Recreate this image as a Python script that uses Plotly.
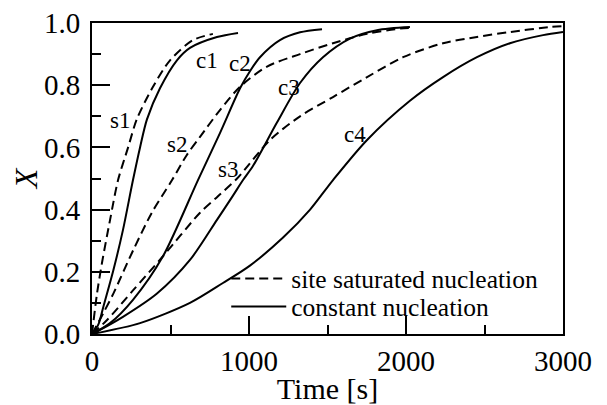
import plotly.graph_objects as go

# Time [s] and transformed fraction X
s1_t = [0, 32, 64, 115, 166, 230, 285, 383, 497, 643, 770]
s1_x = [0, 0.13, 0.23, 0.367, 0.495, 0.60, 0.69, 0.79, 0.88, 0.945, 0.965]

c1_t = [0, 40, 72, 136, 197, 261, 306, 350, 433, 541, 624, 796, 930]
c1_x = [0, 0.03, 0.087, 0.205, 0.334, 0.495, 0.60, 0.69, 0.79, 0.88, 0.92, 0.955, 0.968]

s2_t = [0, 72, 136, 263, 381, 510, 603, 688, 815, 943, 1115, 1325, 1535, 1752, 1962, 2040]
s2_x = [0, 0.067, 0.13, 0.27, 0.39, 0.495, 0.575, 0.634, 0.72, 0.795, 0.86, 0.90, 0.935, 0.965, 0.982, 0.984]

c2_t = [0, 115, 261, 452, 675, 815, 943, 1006, 1070, 1197, 1325, 1465]
c2_x = [0, 0.035, 0.11, 0.25, 0.495, 0.646, 0.79, 0.845, 0.89, 0.945, 0.97, 0.98]

s3_t = [0, 96, 261, 452, 688, 796, 924, 1134, 1325, 1535, 1752, 1981, 2236, 2452, 2662, 2917, 3000]
s3_x = [0, 0.045, 0.14, 0.25, 0.39, 0.44, 0.50, 0.624, 0.70, 0.762, 0.826, 0.89, 0.935, 0.955, 0.971, 0.987, 0.99]

c3_t = [0, 51, 197, 414, 624, 796, 898, 962, 1025, 1178, 1325, 1471, 1643, 1815, 2025]
c3_x = [0, 0.013, 0.055, 0.13, 0.238, 0.367, 0.445, 0.495, 0.54, 0.68, 0.807, 0.89, 0.95, 0.977, 0.987]

c4_t = [0, 306, 624, 834, 1006, 1217, 1389, 1535, 1752, 2025, 2236, 2452, 2662, 2873, 3000]
c4_x = [0, 0.035, 0.10, 0.164, 0.22, 0.31, 0.40, 0.495, 0.624, 0.75, 0.826, 0.89, 0.935, 0.961, 0.971]

label_names = ["s1", "c1", "s2", "c2", "s3", "c3", "c4"]
label_t = [178, 732, 541, 943, 866, 1255, 1675]
label_x = [0.685, 0.878, 0.608, 0.871, 0.53, 0.794, 0.643]

legend_names = ["site saturated nucleation", "constant nucleation"]

FONT = "Liberation Serif, Times New Roman, serif"

fig = go.Figure()

dashed = [(s1_t, s1_x), (s2_t, s2_x), (s3_t, s3_x)]
solid = [(c1_t, c1_x), (c2_t, c2_x), (c3_t, c3_x), (c4_t, c4_x)]

for i, (t, x) in enumerate(dashed):
    fig.add_trace(go.Scatter(
        x=t, y=x, mode="lines", line=dict(color="black", width=2, dash="9px,5px", shape="spline", smoothing=0.8),
        name=legend_names[0], showlegend=(i == 0), legend="legend"))
for i, (t, x) in enumerate(solid):
    fig.add_trace(go.Scatter(
        x=t, y=x, mode="lines", line=dict(color="black", width=2, shape="spline", smoothing=0.8),
        name=legend_names[1], showlegend=(i == 0), legend="legend2"))

for n, t, x in zip(label_names, label_t, label_x):
    fig.add_annotation(x=t, y=x, text=n, showarrow=False, xref="x", yref="y",
                       font=dict(family=FONT, size=23, color="black"))

axis_common = dict(
    showline=True, linecolor="black", linewidth=2, mirror=True,
    ticks="inside", ticklen=18, tickwidth=2, tickcolor="black",
    showgrid=False, zeroline=False, automargin=False, ticklabeloverflow="allow",
    tickfont=dict(family=FONT, size=29, color="black"),
)

fig.update_xaxes(range=[0, 3000], tickvals=[0, 1000, 2000, 3000], ticktext=["0", "1000", "2000", "3000"],
                 minor=dict(ticks="inside", ticklen=9, tickwidth=2, tickcolor="black", dtick=500, showgrid=False),
                 title=dict(text="Time [s]", font=dict(family=FONT, size=30, color="black"), standoff=2),
                 **axis_common)
fig.update_yaxes(range=[0, 1.0], tickvals=[0, 0.2, 0.4, 0.6, 0.8, 1.0],
                 ticktext=["0.0", "0.2", "0.4", "0.6", "0.8", "1.0"],
                 minor=dict(ticks="inside", ticklen=9, tickwidth=2, tickcolor="black", dtick=0.1, showgrid=False),
                 title=dict(text="<i>X</i>", font=dict(family=FONT, size=32, color="black"), standoff=3),
                 ticklabelstandoff=4,
                 **axis_common)

leg_common = dict(font=dict(family=FONT, size=25.5, color="black"), bgcolor="rgba(0,0,0,0)",
                  borderwidth=0, xanchor="left", yanchor="middle", itemwidth=55)
# the page adds an 8px body margin, so the figure is 8px smaller on each side
fig.update_layout(
    width=599, height=397,
    margin=dict(l=84, r=44, t=15, b=71),
    paper_bgcolor="white", plot_bgcolor="white",
    legend=dict(x=0.285, y=0.177, **leg_common),
    legend2=dict(x=0.285, y=0.087, **leg_common),
)

fig.write_html("out.html")
